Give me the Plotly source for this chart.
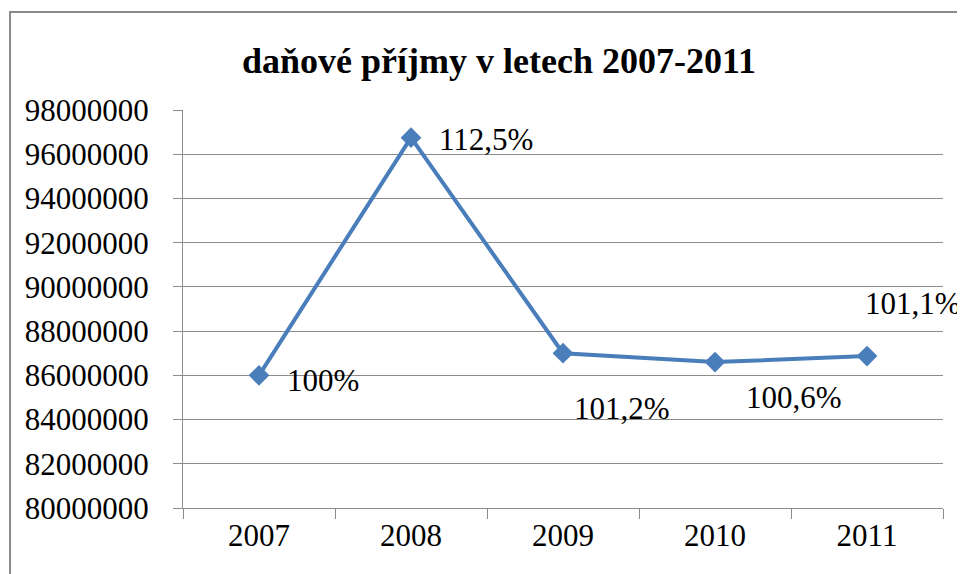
import plotly.graph_objects as go

years = ["2007", "2008", "2009", "2010", "2011"]
values = [86000000, 96750000, 87000000, 86600000, 86870000]
labels = ["100%", "112,5%", "101,2%", "100,6%", "101,1%"]
label_dx = [26, 26, 9, 29, -4]
label_dy = [-5, -2, -55, -35, 53]
y_ticks = list(range(80000000, 98000001, 2000000))

FONT = "Times New Roman"
GRID = "#8c8c8c"

fig = go.Figure()
fig.add_trace(go.Scatter(
    x=years, y=values, mode="lines+markers",
    line=dict(color="#4A7EBB", width=4),
    marker=dict(symbol="diamond", size=16, color="#4A7EBB"),
    showlegend=False, hoverinfo="skip",
))

for i, (y, t, dx, dy) in enumerate(zip(values, labels, label_dx, label_dy)):
    fig.add_annotation(x=i, y=y, xref="x", yref="y", text=t, showarrow=False,
                       xanchor="left", yanchor="middle",
                       xshift=dx, yshift=dy, font=dict(family=FONT, size=31, color="black"))

fig.add_shape(type="rect", xref="paper", yref="paper", x0=-0.2276, y0=-0.4, x1=1.2, y1=1.2462,
              line=dict(color="#8a8a8a", width=2), fillcolor="rgba(0,0,0,0)", layer="below")

fig.update_layout(
    width=957, height=566,
    margin=dict(l=175, r=22, t=102, b=66, autoexpand=False),
    paper_bgcolor="white", plot_bgcolor="white",
    title=dict(text="daňové příjmy v letech 2007-2011", x=491 / 957, xanchor="center",
               y=1 - 52 / 566, yanchor="middle", xref="container", yref="container",
               font=dict(family=FONT, size=36, color="black", weight=700)),
    xaxis=dict(type="category", tickson="boundaries", ticks="outside", ticklen=10,
               tickcolor=GRID, showline=True, linecolor=GRID, linewidth=1, automargin=False,
               showgrid=False, tickfont=dict(family=FONT, size=31, color="black"),
               range=[-0.5, 4.5]),
    yaxis=dict(range=[80000000, 98000000], tickvals=y_ticks, ticktext=[str(v) for v in y_ticks],
               ticks="outside", ticklen=9, tickcolor=GRID, showline=True, linecolor=GRID,
               linewidth=1, showgrid=True, gridcolor=GRID, gridwidth=1, zeroline=False,
               automargin=False,
               tickfont=dict(family=FONT, size=31, color="black"), ticklabelstandoff=18),
)

fig.write_html("out.html")
